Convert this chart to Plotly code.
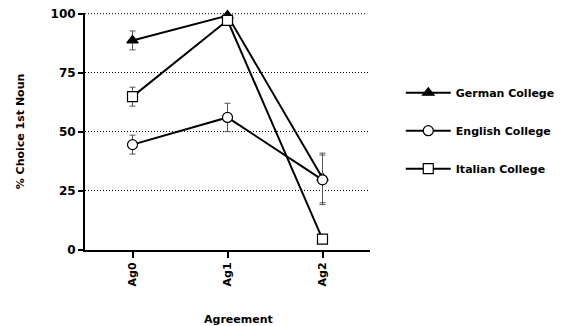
import plotly.graph_objects as go

# Agreement conditions on the x axis
conditions = ["Ag0", "Ag1", "Ag2"]

# % choice of the first noun per group, with standard errors
german = [88.7, 99.2, 30.5]
german_err = [4.0, 1.0, 10.5]
english = [44.6, 56.1, 29.7]
english_err = [4.0, 6.0, 10.5]
italian = [64.9, 97.2, 4.6]
italian_err = [4.0, 1.0, 1.0]

y_ticks = [0, 25, 50, 75, 100]

FONT = "DejaVu Sans, Liberation Sans, Arial, sans-serif"

series = [
    ("German College", german, german_err, "triangle-up", "black"),
    ("English College", english, english_err, "circle", "white"),
    ("Italian College", italian, italian_err, "square", "white"),
]

fig = go.Figure()
for i, (name, vals, errs, sym, fill) in enumerate(series):
    fig.add_trace(go.Scatter(
        x=conditions, y=vals, name=name, mode="lines+markers",
        legendgroup=f"g{i}",
        line=dict(color="black", width=2),
        marker=dict(symbol=sym, size=10, color=fill,
                    line=dict(color="black", width=1.2)),
        error_y=dict(type="data", array=errs, visible=True,
                     color="#555555", thickness=1, width=3),
        cliponaxis=False,
    ))

# dotted guide at the top of the value axis (the regular grid skips the edge)
fig.add_shape(type="line", xref="paper", yref="y", x0=0, x1=0.99,
              y0=y_ticks[-1], y1=y_ticks[-1], layer="below",
              line=dict(color="black", width=1, dash="1px,2px"))

fig.update_layout(
    width=575, height=326,
    margin=dict(l=85, r=205, t=13, b=76, autoexpand=False),
    paper_bgcolor="white", plot_bgcolor="white",
    font=dict(family=FONT, size=11, color="black", weight="bold"),
    showlegend=True,
    legend=dict(x=1.108, y=0.725, xanchor="left", yanchor="top",
                itemwidth=45, tracegroupgap=19,
                font=dict(size=11, weight="bold"),
                bgcolor="rgba(0,0,0,0)"),
    xaxis=dict(
        type="category", range=[-0.5, 2.5],
        showline=True, linecolor="black", linewidth=2,
        ticks="outside", ticklen=6, tickwidth=2, tickcolor="black",
        tickangle=-90, showgrid=False, zeroline=False,
        tickfont=dict(size=11, weight="bold"),
    ),
    yaxis=dict(
        range=[0, 100.3], tickvals=y_ticks,
        showline=True, linecolor="black", linewidth=2,
        ticks="outside", ticklen=5, tickwidth=2, tickcolor="black",
        showgrid=True, gridcolor="black", gridwidth=1, griddash="1px,2px",
        zeroline=False,
        tickfont=dict(size=12, weight="bold"),
        title=dict(text="% Choice 1st Noun", standoff=24,
                   font=dict(size=11, weight="bold")),
    ),
    annotations=[dict(
        text="Agreement", xref="paper", yref="paper",
        x=0.537, y=-0.295, xanchor="center", yanchor="middle",
        showarrow=False, font=dict(size=11, weight="bold"),
    )],
)

fig.write_html("out.html")
